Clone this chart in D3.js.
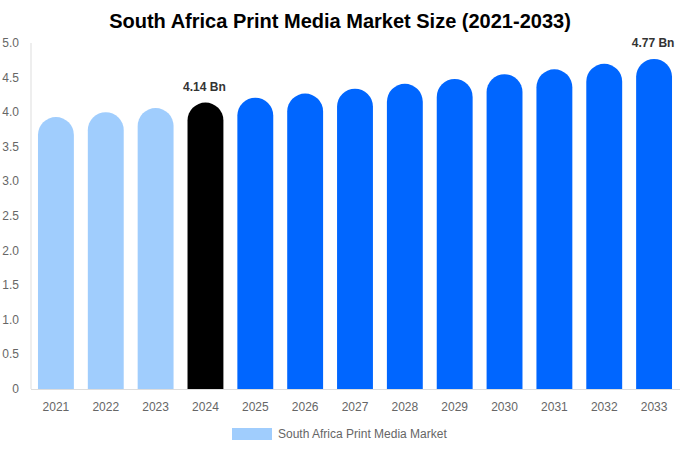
<!DOCTYPE html>
<html lang="en">
<head>
<meta charset="utf-8">
<title>South Africa Print Media Market Size</title>
<script src="https://cdn.jsdelivr.net/npm/d3@7"></script>
<style>
  body { margin: 0; background: #fff; font-family: "Liberation Sans", Arial, sans-serif; }
</style>
</head>
<body>
<script>
// data
var years = ["2021","2022","2023","2024","2025","2026","2027","2028","2029","2030","2031","2032","2033"];
var values = [3.93, 4.00, 4.06, 4.14, 4.21, 4.27, 4.34, 4.41, 4.48, 4.55, 4.62, 4.70, 4.77];
var yTicks = [0, 0.5, 1.0, 1.5, 2.0, 2.5, 3.0, 3.5, 4.0, 4.5, 5.0];
var labelled = ["2024", "2033"];
var seriesName = "South Africa Print Media Market";

var W = 680, H = 450;
var margin = {top: 43, right: 1, bottom: 61, left: 31};

var svg = d3.select("body").append("svg").attr("width", W).attr("height", H);

svg.append("text")
  .attr("x", W / 2).attr("y", 28)
  .attr("text-anchor", "middle")
  .style("font-size", "20px").style("font-weight", "bold").style("fill", "#000")
  .text("South Africa Print Media Market Size (2021-2033)");

var x = d3.scaleBand().domain(years).range([margin.left, W - margin.right]).paddingInner(0.28).paddingOuter(0.14);
var y = d3.scaleLinear().domain([0, 5]).range([H - margin.bottom, margin.top]);

function barColor(yr) {
  if (+yr < 2024) return "#a0cdfd";
  if (+yr === 2024) return "#000000";
  return "#0066ff";
}

// axis lines
svg.append("line")
  .attr("x1", margin.left).attr("x2", margin.left)
  .attr("y1", y(5)).attr("y2", y(0))
  .attr("stroke", "#dddddd");

// y tick labels
svg.selectAll(".ytick").data(yTicks).enter().append("text")
  .attr("class", "ytick")
  .attr("x", 19).attr("y", function(d) { return y(d) + 4; })
  .attr("text-anchor", "end")
  .style("font-size", "12px").style("fill", "#666")
  .text(function(d) { return d === 0 ? "0" : d.toFixed(1); });

// bars with rounded tops
var bw = x.bandwidth(), r = bw / 2;
svg.selectAll(".bar").data(years).enter().append("path")
  .attr("class", "bar")
  .attr("fill", function(d) { return barColor(d); })
  .attr("d", function(d, i) {
    var x0 = x(d), top = y(values[i]), base = y(0);
    return "M" + x0 + "," + base + "V" + (top + r) +
      "A" + r + "," + r + " 0 0 1 " + (x0 + bw) + "," + (top + r) +
      "V" + base + "Z";
  });

svg.append("line")
  .attr("x1", margin.left).attr("x2", W)
  .attr("y1", y(0) + 0.5).attr("y2", y(0) + 0.5)
  .attr("stroke", "#dddddd");

// x tick labels
svg.selectAll(".xtick").data(years).enter().append("text")
  .attr("class", "xtick")
  .attr("x", function(d) { return x(d) + bw / 2; })
  .attr("y", y(0) + 22)
  .attr("text-anchor", "middle")
  .style("font-size", "12px").style("fill", "#666")
  .text(function(d) { return d; });

// value labels
svg.selectAll(".vlabel").data(years.filter(function(d) { return labelled.indexOf(d) >= 0; })).enter().append("text")
  .attr("class", "vlabel")
  .attr("x", function(d) { return x(d) + bw / 2 - 1; })
  .attr("y", function(d) { return y(values[years.indexOf(d)]) - 12; })
  .attr("text-anchor", "middle")
  .style("font-size", "12px").style("font-weight", "bold").style("fill", "#333")
  .text(function(d) { return values[years.indexOf(d)].toFixed(2) + " Bn"; });

// legend
var leg = svg.append("g").attr("transform", "translate(232,428)");
leg.append("rect").attr("width", 40).attr("height", 12).attr("fill", "#a0cdfd");
leg.append("text").attr("x", 46).attr("y", 10)
  .style("font-size", "12px").style("fill", "#666")
  .text(seriesName);
</script>
</body>
</html>
